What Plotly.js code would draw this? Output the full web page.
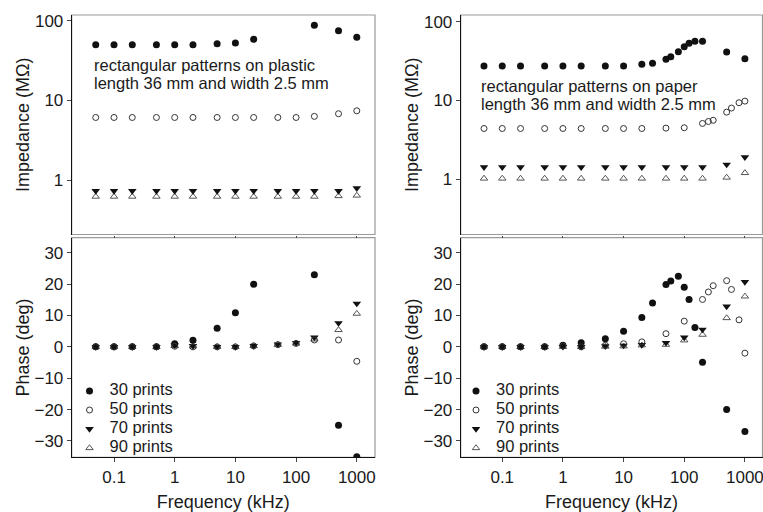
<!DOCTYPE html>
<html>
<head>
<meta charset="utf-8">
<script src="https://cdn.plot.ly/plotly-3.0.1.min.js"></script>
<style>html,body{margin:0;padding:0;background:#fff;}#chart{width:763px;height:512px;}</style>
</head>
<body>
<div id="chart"></div>
<script>
// ---------- DATA ----------
const seriesNames = ['30 prints', '50 prints', '70 prints', '90 prints'];

// Plastic (left column)
const plasticFreq30 = [0.05, 0.1, 0.2, 0.5, 1, 2, 5, 10, 20, 200, 500, 1000];
const plasticFreqAll = [0.05, 0.1, 0.2, 0.5, 1, 2, 5, 10, 20, 50, 100, 200, 500, 1000];
const plasticImp30 = [50, 50, 50, 50, 50, 50, 51.5, 52.5, 58.5, 88, 75, 62];
const plasticImp50 = [6.1, 6.1, 6.1, 6.1, 6.1, 6.1, 6.1, 6.1, 6.1, 6.1, 6.1, 6.3, 6.8, 7.4];
const plasticImp70 = [0.73, 0.73, 0.73, 0.73, 0.73, 0.73, 0.73, 0.73, 0.73, 0.73, 0.73, 0.73, 0.73, 0.79];
const plasticImp90 = [0.62, 0.62, 0.62, 0.62, 0.62, 0.62, 0.62, 0.62, 0.62, 0.62, 0.62, 0.62, 0.63, 0.64];
const plasticPh30 = [0, 0, 0, 0, 1.0, 2.1, 5.9, 10.9, 20, 23, -25, -35];
const plasticPh50 = [0, 0, 0, 0, 0.2, 0, 0, 0, 0.3, 0.7, 1.1, 2.2, 2.2, -4.6];
const plasticPh70 = [0, 0, 0, 0, 0.5, 0.3, 0, 0, 0.3, 0.8, 1.3, 3.0, 7.6, 13.8];
const plasticPh90 = [0, 0, 0, 0, 0.3, 0.2, 0, 0, 0.3, 0.7, 1.1, 2.4, 5.4, 10.6];

// Paper (right column)
const paperFreq30 = [0.05, 0.1, 0.2, 0.5, 1, 2, 5, 10, 20, 30, 50, 60, 80, 100, 120, 150, 200, 500, 1000];
const paperFreq50 = [0.05, 0.1, 0.2, 0.5, 1, 2, 5, 10, 20, 50, 100, 200, 250, 300, 500, 600, 800, 1000];
const paperFreq7090 = [0.05, 0.1, 0.2, 0.5, 1, 2, 5, 10, 20, 50, 100, 200, 500, 1000];
const paperImp30 = [27.3, 27.3, 27.3, 27.3, 27.3, 27.3, 27.3, 27.3, 28.7, 29.6, 33.3, 35.9, 41.6, 48.1, 53.1, 56.3, 56.3, 41.2, 33.9];
const paperImp50 = [4.4, 4.4, 4.4, 4.4, 4.4, 4.4, 4.4, 4.4, 4.4, 4.45, 4.5, 5.1, 5.4, 5.6, 7.1, 8.0, 9.35, 9.8];
const paperImp70 = [1.42, 1.42, 1.42, 1.42, 1.42, 1.42, 1.42, 1.42, 1.42, 1.42, 1.42, 1.42, 1.53, 1.9];
const paperImp90 = [1.02, 1.02, 1.02, 1.02, 1.02, 1.02, 1.02, 1.02, 1.02, 1.02, 1.02, 1.02, 1.05, 1.2];
const paperPh30 = [0, 0, 0, 0, 0.5, 1.3, 2.6, 5.0, 9.4, 14.0, 19.9, 21.0, 22.5, 19.0, 15.1, 6.2, -4.9, -20, -27];
const paperPh50 = [0, 0, 0, 0, 0.3, 0, 0.5, 1.0, 1.6, 4.2, 8.2, 15.1, 17.5, 19.5, 21.1, 18.3, 8.6, -2.0];
const paperPh70 = [0, 0, 0, 0, 0, 0, 0.2, 0.4, 0.6, 1.3, 3.0, 5.5, 12.9, 20.7];
const paperPh90 = [0, 0, 0, 0, 0, 0, 0.1, 0.2, 0.5, 0.7, 2.1, 3.9, 9.2, 16.1];

const panelTexts = [
  ['rectangular patterns on plastic', 'length 36 mm and width 2.5 mm'],
  ['rectangular patterns on paper', 'length 36 mm and width 2.5 mm']
];
const freqTickVals = [0.1, 1, 10, 100, 1000];
const freqTickText = ['0.1', '1', '10', '100', '1000'];
const impTickVals = [1, 10, 100];
const impTickText = ['1', '10', '100'];
const phaseTickVals = [-30, -20, -10, 0, 10, 20, 30];

// ---------- STYLE ----------
const FONT = 'Liberation Sans, Arial, Helvetica, sans-serif';
const markerStyles = [
  {symbol: 'circle', size: 7, color: '#111', line: {width: 0}},
  {symbol: 'circle-open', size: 6, color: '#333', line: {width: 1}},
  {symbol: 'triangle-down', size: 7.5, color: '#111', line: {width: 0}},
  {symbol: 'triangle-up-open', size: 6.5, color: '#555', line: {width: 1}}
];

function mk(x, y, idx, xa, ya) {
  return {
    type: 'scatter', mode: 'markers', x: x, y: y,
    xaxis: xa, yaxis: ya,
    marker: markerStyles[idx],
    name: '<span style="font-size:16.5px">' + seriesNames[idx] + '</span>',
    showlegend: false,
    hoverinfo: 'skip'
  };
}

const data = [
  mk(plasticFreqAll, plasticImp90, 3, 'x', 'y'),
  mk(plasticFreqAll, plasticImp70, 2, 'x', 'y'),
  mk(plasticFreqAll, plasticImp50, 1, 'x', 'y'),
  mk(plasticFreq30, plasticImp30, 0, 'x', 'y'),

  mk(plasticFreqAll, plasticPh90, 3, 'x2', 'y2'),
  mk(plasticFreqAll, plasticPh70, 2, 'x2', 'y2'),
  mk(plasticFreq30, plasticPh30, 0, 'x2', 'y2'),
  mk(plasticFreqAll, plasticPh50, 1, 'x2', 'y2'),

  mk(paperFreq7090, paperImp90, 3, 'x3', 'y3'),
  mk(paperFreq7090, paperImp70, 2, 'x3', 'y3'),
  mk(paperFreq50, paperImp50, 1, 'x3', 'y3'),
  mk(paperFreq30, paperImp30, 0, 'x3', 'y3'),

  mk(paperFreq7090, paperPh90, 3, 'x4', 'y4'),
  mk(paperFreq7090, paperPh70, 2, 'x4', 'y4'),
  mk(paperFreq30, paperPh30, 0, 'x4', 'y4'),
  mk(paperFreq50, paperPh50, 1, 'x4', 'y4')
];
// legend entries for bottom panels (order 30, 50, 70, 90)
[[6, 7, 5, 4], [14, 15, 13, 12]].forEach((ids, k) => {
  ids.forEach((i, r) => {
    data[i].showlegend = true;
    data[i].legend = k === 0 ? 'legend' : 'legend2';
    data[i].legendrank = r + 1;
  });
});

const W = 763, H = 512;
const xL = [71.7 / W, 375 / W];
const xR = [460.7 / W, 762.5 / W];
const yTop = [1 - 234.5 / H, 1 - 15 / H];
const yBot = [1 - 457.3 / H, 1 - 237.7 / H];

const tickFont = {family: FONT, size: 17, color: '#1a1a1a'};
const titleFont = {family: FONT, size: 18, color: '#1a1a1a'};

function xAxis(domain, anchor, range, bottom) {
  return {
    type: 'log', domain: domain, anchor: anchor, range: range,
    tickvals: freqTickVals, ticktext: freqTickText,
    showticklabels: bottom, ticks: 'outside', ticklen: bottom ? 4 : 2, tickcolor: '#444',
    ticklabeloverflow: 'allow',
    showline: bottom, linecolor: '#111', linewidth: 1,
    showgrid: false, zeroline: false, tickfont: tickFont,
    title: bottom ? {text: 'Frequency (kHz)', font: titleFont, standoff: 24} : {text: ''}
  };
}
function yImp(domain, anchor, range) {
  return {
    type: 'log', domain: domain, anchor: anchor, range: range,
    tickvals: impTickVals, ticktext: impTickText,
    ticks: 'outside', ticklen: 4, tickcolor: '#444',
    showline: true, linecolor: '#111', linewidth: 1,
    showgrid: false, zeroline: false, tickfont: tickFont,
    title: {text: 'Impedance (MΩ)', font: titleFont, standoff: 0}
  };
}
function yPh(domain, anchor) {
  return {
    domain: domain, anchor: anchor, range: [-35.2, 34.8],
    tickvals: phaseTickVals,
    ticks: 'outside', ticklen: 4, tickcolor: '#444',
    showline: true, linecolor: '#111', linewidth: 1,
    showgrid: false, zeroline: false, tickfont: tickFont,
    title: {text: 'Phase (deg)', font: titleFont, standoff: 0}
  };
}

const boxes = [['x', 'y'], ['x2', 'y2'], ['x3', 'y3'], ['x4', 'y4']].map(([xa, ya]) => ({
  type: 'rect', xref: xa + ' domain', yref: ya + ' domain',
  x0: 0, x1: 1, y0: 0, y1: 1, layer: 'below',
  line: {color: '#9a9a9a', width: 1.2}
}));

const annFont = {family: FONT, size: 16.5, color: '#1a1a1a'};
const annotations = [
  {text: panelTexts[0][0], x: 91.7 / W, y: 1 - 65 / H},
  {text: panelTexts[0][1], x: 91.7 / W, y: 1 - 83 / H},
  {text: panelTexts[1][0], x: 479.3 / W, y: 1 - 86 / H},
  {text: panelTexts[1][1], x: 479.3 / W, y: 1 - 104.3 / H}
].map(a => Object.assign(a, {
  xref: 'paper', yref: 'paper', xanchor: 'left', yanchor: 'middle',
  showarrow: false, font: annFont
}));

const legendBase = {
  font: {family: FONT, size: 10.9, color: '#1a1a1a'},
  bgcolor: 'rgba(0,0,0,0)', borderwidth: 0,
  xanchor: 'left', yanchor: 'top', itemwidth: 30, tracegroupgap: 0
};

const layout = {
  width: W, height: H,
  margin: {l: 0, r: 0, t: 0, b: 0},
  paper_bgcolor: '#fff', plot_bgcolor: 'rgba(0,0,0,0)',
  font: {family: FONT, color: '#1a1a1a'},
  xaxis: xAxis(xL, 'y', [-1.697, 3.30], false),
  yaxis: yImp(yTop, 'x', [-0.684, 2.072]),
  xaxis2: xAxis(xL, 'y2', [-1.697, 3.30], true),
  yaxis2: yPh(yBot, 'x2'),
  xaxis3: xAxis(xR, 'y3', [-1.685, 3.29], false),
  yaxis3: yImp(yTop, 'x3', [-0.703, 2.085]),
  xaxis4: xAxis(xR, 'y4', [-1.685, 3.29], true),
  yaxis4: yPh(yBot, 'x4'),
  shapes: boxes,
  annotations: annotations,
  legend: Object.assign({}, legendBase, {x: 69.5 / W, y: 1 - 376.5 / H}),
  legend2: Object.assign({}, legendBase, {x: 456 / W, y: 1 - 376.5 / H}),
  showlegend: true
};

Plotly.newPlot('chart', data, layout, {displayModeBar: false, staticPlot: true});
</script>
</body>
</html>
